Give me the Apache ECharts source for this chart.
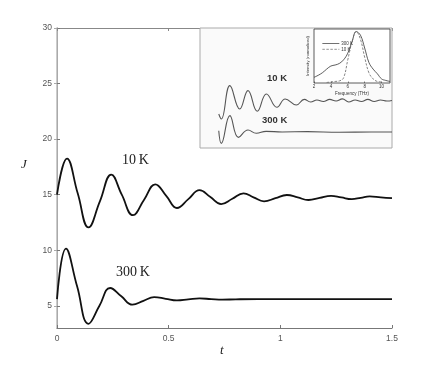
<!DOCTYPE html>
<html>
<head>
<meta charset="utf-8">
<script src="https://cdn.jsdelivr.net/npm/echarts@6/dist/echarts.min.js"></script>
<style>
  html, body { margin: 0; padding: 0; background: #fff; }
  #chart { width: 434px; height: 369px; }
</style>
</head>
<body>
<div id="chart"></div>
<script>
// main panel: J(t) for two temperatures
const t10 = [0, 0.045, 0.093, 0.141, 0.192, 0.243, 0.29, 0.34, 0.39, 0.44, 0.49, 0.537, 0.588, 0.638, 0.687, 0.735, 0.785, 0.835, 0.88, 0.927, 0.978, 1.029, 1.078, 1.126, 1.176, 1.227, 1.273, 1.32, 1.36, 1.40, 1.45, 1.5]
const j10 = [15.0, 18.25, 15.1, 12.05, 14.4, 16.8, 15.0, 13.15, 14.55, 15.93, 14.87, 13.8, 14.6, 15.4, 14.78, 14.15, 14.63, 15.12, 14.76, 14.4, 14.68, 14.97, 14.75, 14.52, 14.71, 14.9, 14.75, 14.6, 14.72, 14.85, 14.75, 14.68]
const t300 = [0, 0.04, 0.09, 0.141, 0.19, 0.238, 0.288, 0.338, 0.387, 0.435, 0.487, 0.537, 0.588, 0.638, 0.69, 0.74, 0.8, 0.9, 1.1, 1.3, 1.5]
const j300 = [5.6, 10.15, 6.75, 3.38, 5.0, 6.6, 5.85, 5.1, 5.45, 5.78, 5.63, 5.48, 5.57, 5.66, 5.6, 5.55, 5.58, 5.6, 5.6, 5.6, 5.6]
const xTicks = [0, 0.5, 1, 1.5]
const yTicks = [5, 10, 15, 20, 25, 30]

// inset (scanned experiment) in its own arbitrary units
const ix10 = [0.21, 0.29, 0.56, 0.87, 1.13, 1.42, 1.71, 2.04, 2.30, 2.65, 2.9, 3.1, 3.3, 3.5, 3.7, 3.9, 4.1, 4.3, 4.5, 4.7, 4.9, 5.1, 5.3, 5.5, 5.66]
const iy10 = [2.74, 2.26, 5.48, 3.22, 5.0, 3.0, 4.68, 3.39, 4.19, 3.61, 4.15, 3.9, 4.1, 3.95, 4.15, 4.0, 4.2, 3.9, 4.1, 3.95, 4.15, 3.95, 4.1, 4.0, 4.05]
const ix300 = [0.21, 0.29, 0.56, 0.83, 1.13, 1.39, 1.7, 2.2, 3, 4, 5, 5.66]
const iy300 = [1.12, -0.1, 2.58, 0.48, 1.19, 0.87, 1.06, 1.0, 1.03, 0.98, 1.0, 1.0]
const insetXTicks = [0, 1, 2, 3, 4, 5]
const insetYTicks = [0, 1, 2, 3, 4, 5, 6, 7, 8, 9, 10]

// spectrum inside the inset
const sx300 = [2, 2.5, 3, 3.5, 4, 4.5, 5, 5.5, 6, 6.5, 7, 7.5, 8, 8.5, 9, 9.5, 10, 10.5, 11]
const s300 = [0.11, 0.15, 0.2, 0.27, 0.33, 0.35, 0.38, 0.45, 0.58, 0.8, 1.0, 0.93, 0.68, 0.4, 0.27, 0.18, 0.08, 0.05, 0.03]
const sx10 = [3.5, 4, 4.5, 5, 5.5, 6, 6.5, 7, 7.5, 8, 8.5, 9, 9.5, 10]
const s10 = [0.01, 0.02, 0.03, 0.04, 0.1, 0.45, 0.8, 1.0, 0.85, 0.5, 0.2, 0.08, 0.03, 0.02]
const specTicks = [2, 4, 6, 8, 10]

const zip = (a, b) => a.map((v, i) => [v, b[i]])
const sans = 'Liberation Sans'
const axisGray = '#777'

const chart = echarts.init(document.getElementById('chart'), null, { renderer: 'canvas' })

const hidden = { show: false }

chart.setOption({
  animation: false,
  grid: [
    { left: 57, right: 42, top: 28, bottom: 41 },
    { left: 200, top: 28, width: 192, height: 120, show: true, backgroundColor: '#fafafa', borderColor: '#aaa', borderWidth: 1, z: 1 },
    { left: 314, top: 29, width: 76, height: 54, show: true, backgroundColor: '#fff', borderColor: '#333', borderWidth: 0.8, z: 3 }
  ],
  xAxis: [
    {
      gridIndex: 0, type: 'value', position: 'bottom', min: 0, max: 1.5,
      axisLine: { lineStyle: { color: axisGray, width: 1 } },
      axisTick: { inside: true, length: 3, customValues: xTicks, lineStyle: { color: axisGray } },
      axisLabel: { customValues: xTicks, fontSize: 8.5, fontFamily: sans, color: '#555', margin: 6 },
      splitLine: hidden
    },
    {
      gridIndex: 0, type: 'value', position: 'top', min: 0, max: 1.5,
      axisLine: { lineStyle: { color: '#888', width: 1 } },
      axisTick: { inside: true, length: 3, customValues: xTicks, lineStyle: { color: '#888' } },
      axisLabel: hidden, splitLine: hidden
    },
    {
      gridIndex: 1, type: 'value', min: -0.38, max: 5.66,
      axisLine: hidden,
      axisTick: { inside: true, length: 3, customValues: insetXTicks, lineStyle: { color: '#444' } },
      axisLabel: hidden, splitLine: hidden
    },
    {
      gridIndex: 2, type: 'value', min: 2, max: 11, interval: 2, z: 3,
      axisLine: hidden,
      axisTick: { inside: true, length: 1.5, customValues: specTicks, lineStyle: { color: '#333', width: 0.6 } },
      axisLabel: { customValues: specTicks, fontSize: 4.5, fontFamily: sans, color: '#333', margin: 1.5 },
      name: 'Frequency (THz)', nameLocation: 'middle', nameGap: 8,
      nameTextStyle: { fontSize: 4.5, fontFamily: sans, color: '#333' },
      splitLine: hidden
    }
  ],
  yAxis: [
    {
      gridIndex: 0, type: 'value', position: 'left', min: 3, max: 30,
      axisLine: { show: true, lineStyle: { color: axisGray, width: 1 } },
      axisTick: { show: true, inside: true, length: 3, customValues: yTicks, lineStyle: { color: axisGray } },
      axisLabel: { customValues: yTicks, fontSize: 8.5, fontFamily: sans, color: '#555', margin: 5 },
      splitLine: hidden
    },
    {
      gridIndex: 0, type: 'value', position: 'right', min: 3, max: 30,
      axisLine: { show: true, lineStyle: { color: '#bbb', width: 1.5 } },
      axisTick: { show: true, inside: true, length: 3, customValues: yTicks, lineStyle: { color: '#aaa' } },
      axisLabel: hidden, splitLine: hidden
    },
    {
      gridIndex: 1, type: 'value', min: -0.55, max: 11.06,
      axisLine: hidden,
      axisTick: { show: true, inside: true, length: 3, customValues: insetYTicks, lineStyle: { color: '#444' } },
      axisLabel: hidden, splitLine: hidden
    },
    {
      gridIndex: 2, type: 'value', min: 0, max: 1.05, z: 3,
      axisLine: hidden, axisTick: hidden, axisLabel: hidden, splitLine: hidden,
      name: 'Intensity (normalized)', nameLocation: 'middle', nameGap: 4, nameRotate: 90,
      nameTextStyle: { fontSize: 4.2, fontFamily: sans, color: '#333' }
    }
  ],
  legend: {
    data: ['S300', 'S10'],
    orient: 'vertical', left: 317, top: 36,
    itemWidth: 17, itemHeight: 5, itemGap: 0.8,
    itemStyle: { opacity: 0 },
    lineStyle: { width: 0.7 },
    textStyle: { fontSize: 4.5, fontFamily: sans, color: '#333', padding: [0, 0, 0, -3] },
    formatter: (n) => (n === 'S300' ? '300 K' : '10 K'),
    z: 5
  },
  series: [
    { name: '10 K', type: 'line', xAxisIndex: 0, yAxisIndex: 0, data: zip(t10, j10), smooth: 0.45, showSymbol: false, lineStyle: { color: '#111', width: 1.8 } },
    { name: '300 K', type: 'line', xAxisIndex: 0, yAxisIndex: 0, data: zip(t300, j300), smooth: 0.45, showSymbol: false, lineStyle: { color: '#111', width: 1.8 } },
    { name: 'i10', type: 'line', xAxisIndex: 2, yAxisIndex: 2, data: zip(ix10, iy10), smooth: 0.45, showSymbol: false, z: 2, lineStyle: { color: '#555', width: 1.1 } },
    { name: 'i300', type: 'line', xAxisIndex: 2, yAxisIndex: 2, data: zip(ix300, iy300), smooth: 0.45, showSymbol: false, z: 2, lineStyle: { color: '#555', width: 1.1 } },
    { name: 'S300', type: 'line', xAxisIndex: 3, yAxisIndex: 3, data: zip(sx300, s300), smooth: 0.4, symbol: 'none', z: 4, lineStyle: { color: '#333', width: 0.8 }, itemStyle: { color: '#333' } },
    { name: 'S10', type: 'line', xAxisIndex: 3, yAxisIndex: 3, data: zip(sx10, s10), smooth: 0.4, symbol: 'none', z: 4, lineStyle: { color: '#666', width: 0.8, type: [2.5, 1.5] }, itemStyle: { color: '#666' } }
  ],
  graphic: [
    { type: 'text', left: 21, top: 158, style: { text: 'J', font: 'italic 13px "Liberation Serif"', fill: '#222' } },
    { type: 'text', left: 220, top: 344, style: { text: 't', font: 'italic 13px "Liberation Serif"', fill: '#222' } },
    { type: 'text', left: 122, top: 153, style: { text: '10\u2009K', font: '14px "Liberation Serif"', fill: '#222' } },
    { type: 'text', left: 116, top: 265, style: { text: '300\u2009K', font: '14px "Liberation Serif"', fill: '#222' } },
    { type: 'text', left: 267, top: 73, z: 5, style: { text: '10 K', font: 'bold 9.5px "Liberation Sans"', fill: '#333' } },
    { type: 'text', left: 262, top: 115, z: 5, style: { text: '300 K', font: 'bold 9.5px "Liberation Sans"', fill: '#333' } }
  ]
})
</script>
</body>
</html>
